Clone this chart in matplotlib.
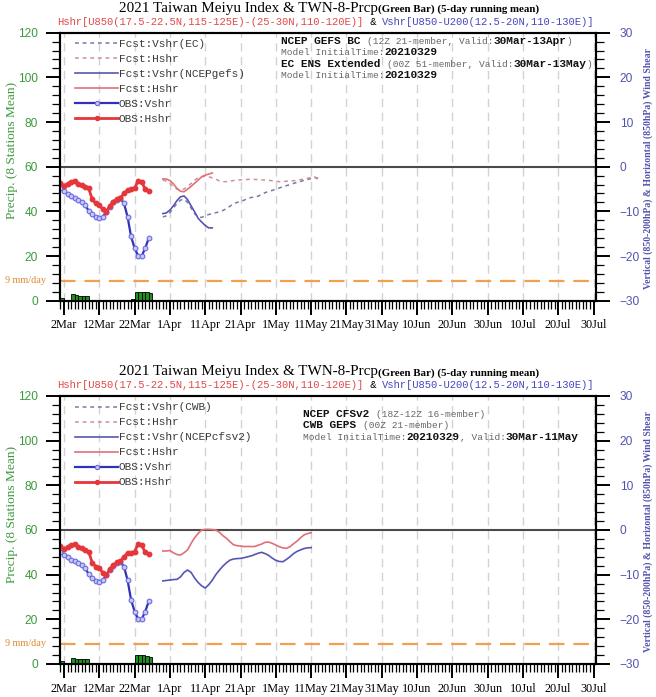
import matplotlib
matplotlib.use('Agg')
import matplotlib.pyplot as plt
import matplotlib.dates as mdates
import pandas as pd
from matplotlib.offsetbox import TextArea, HPacker, VPacker, AnchoredOffsetbox
from matplotlib.ticker import MultipleLocator, FixedLocator, FixedFormatter

# ---------------- data ----------------
obs_start = '2021-03-01'
prcp = [1.2, 0.5, 0.4, 2.9, 2.4, 2.3, 2.3, 2.2, 0, 0, 0, 0, 0, 0, 0, 0, 0, 0, 0,
        0.3, 0.6, 4.0, 4.0, 3.9, 3.7, 3.3]
obs_hshr = [-3.6, -4.25, -3.85, -3.35, -3.15, -3.85, -4.0, -4.45, -4.85, -7.3,
            -8.2, -8.55, -9.55, -10.05, -8.75, -7.85, -7.25, -7.0, -5.95, -5.2,
            -5.05, -4.85, -3.15, -3.4, -5.0, -5.35]
obs_vshr = [-4.85, -5.5, -6.1, -6.65, -7.05, -7.4, -7.85, -8.55, -9.9, -10.7,
            -11.35, -11.55, -11.25, -10.05, -9.0, -8.0, -7.35, -7.1, -8.2, -11.2,
            -15.6, -18.25, -19.9, -20.0, -18.25, -16.0]

fc_start = '2021-03-30'
gefs_hshr = [-2.75, -2.75, -3.1, -3.85, -4.85, -5.5, -5.6, -5.05, -4.4, -3.7,
             -3.0, -2.25, -1.9, -1.65, -1.4]
gefs_vshr = [-10.5, -10.35, -9.7, -8.75, -7.6, -6.75, -6.55, -7.35, -8.75, -10.1,
             -11.55, -12.4, -13.15, -13.7, -13.7]
ec_hshr = [-3.0, -3.25, -3.75, -4.5, -5.0, -5.25, -5.0, -4.5, -3.75, -3.0,
           -2.5, -2.25, -2.1, -2.25, -2.5, -2.75, -3.2, -3.35, -3.35, -3.25,
           -3.1, -3.0, -2.95, -2.9, -2.85, -2.8, -2.85, -2.9, -2.95, -3.0,
           -3.05, -3.15, -3.25, -3.35, -3.35, -3.25, -3.15, -3.15, -3.05, -2.9,
           -2.75, -2.6, -2.4, -2.25, -3.1]
ec_vshr = [-11.25, -11.0, -10.25, -9.25, -8.25, -7.5, -7.25, -8.0, -9.25, -10.5,
           -11.25, -11.35, -11.0, -10.7, -10.5, -10.3, -10.1, -9.8, -9.4, -8.85,
           -8.3, -8.0, -7.8, -7.5, -7.1, -6.9, -6.8, -6.6, -6.2, -5.8,
           -5.55, -5.3, -5.05, -4.75, -4.5, -4.25, -4.0, -3.75, -3.5, -3.3,
           -3.05, -2.85, -2.65, -2.4, -2.6]
cfs_hshr = [-4.7, -4.7, -4.6, -5.1, -5.5, -5.6, -5.1, -4.45, -3.0, -1.75,
            -0.75, 0.0, 0.15, 0.15, 0.1, 0.0, -0.5, -1.25, -1.85, -2.6,
            -3.3, -3.5, -3.6, -3.7, -3.7, -3.7, -3.7, -3.4, -3.15, -2.75,
            -2.7, -3.0, -3.35, -3.75, -4.0, -4.1, -3.75, -3.1, -2.5, -1.75,
            -1.1, -0.8, -0.6]
cfs_vshr = [-11.4, -11.3, -11.2, -11.1, -11.05, -10.5, -9.5, -8.95, -9.5, -10.75,
            -11.75, -12.5, -13.0, -12.25, -11.25, -10.0, -9.0, -8.1, -7.35, -6.75,
            -6.5, -6.4, -6.35, -6.2, -6.0, -5.8, -5.5, -5.2, -5.0, -5.3,
            -5.7, -6.3, -6.8, -7.05, -7.1, -6.6, -6.0, -5.3, -4.8, -4.45,
            -4.15, -4.0, -3.95]

tick_dates = ['2021-03-02', '2021-03-12', '2021-03-22', '2021-04-01', '2021-04-11',
              '2021-04-21', '2021-05-01', '2021-05-11', '2021-05-21', '2021-05-31',
              '2021-06-10', '2021-06-20', '2021-06-30', '2021-07-10', '2021-07-20',
              '2021-07-30']
tick_labels = ['2Mar', '12Mar', '22Mar', '1Apr', '11Apr', '21Apr', '1May', '11May',
               '21May', '31May', '10Jun', '20Jun', '30Jun', '10Jul', '20Jul', '30Jul']
threshold = 9

# ---------------- styles ----------------
W, H = 656, 697
SERIF = 'Liberation Serif'
MONO = 'Liberation Mono'
SANS = 'Liberation Sans'
GREEN = '#3c9a3c'
PURPLE = '#5252b0'
RED_OBS = '#e5363b'
BLUE_OBS = '#3030b8'
RED_FC = '#e07078'
BLUE_FC = '#5656b4'
RED_DASH = '#d09098'
BLUE_DASH = '#7878a8'
ORANGE = '#f0a050'


def d2n(s):
    return mdates.date2num(pd.Timestamp(s))


obs_dates = pd.date_range(obs_start, periods=len(obs_hshr))
fig = plt.figure(figsize=(W / 100, H / 100), dpi=100)


def fig_text_box(lines, x_px, y_px, loc):
    rows = []
    for parts in lines:
        areas = [TextArea(t, textprops=p) for t, p in parts]
        rows.append(HPacker(children=areas, align='baseline', pad=0, sep=0))
    box = rows[0] if len(rows) == 1 else VPacker(children=rows, align='left', pad=0, sep=1.0)
    ab = AnchoredOffsetbox(loc=loc, child=box, pad=0, borderpad=0, frameon=False,
                           bbox_to_anchor=(x_px / W, 1 - y_px / H),
                           bbox_transform=fig.transFigure)
    fig.add_artist(ab)


def draw_panel(top_px, fc_dashed, fc_solid, labels, annot, annot_xy):
    bottom_px = top_px + 268
    ax = fig.add_axes([60 / W, 1 - bottom_px / H, 536 / W, 268 / H])
    ax2 = ax.twinx()

    # precip bars
    ax.bar(obs_dates, prcp, width=1.0, align='edge', color='#1f8f1f',
           edgecolor='black', linewidth=0.6, zorder=3)
    ax.axhline(threshold, color=ORANGE, lw=1.6, dashes=(7, 4), zorder=2)
    ax.axhline(60, color='#4a4a4a', lw=1.5, zorder=2)
    ax.text(-0.027, threshold, '9 mm/day', transform=ax.get_yaxis_transform(),
            ha='right', va='center', color='#e08a30', fontsize=7.3, family=SERIF)

    # x-axis
    ax.set_xlim(d2n('2021-03-01') - 0.13, d2n('2021-07-30') + 0.7)
    ax.xaxis.set_major_locator(FixedLocator([d2n(d) for d in tick_dates]))
    ax.xaxis.set_major_formatter(FixedFormatter(tick_labels))
    ax.xaxis.set_minor_locator(mdates.DayLocator())
    ax.grid(axis='x', which='major', color='#d2d2d2', lw=1.0, dashes=(6, 4))
    ax.set_axisbelow(True)

    ax.set_ylim(0, 120)
    ax.yaxis.set_major_locator(MultipleLocator(20))
    ax.yaxis.set_minor_locator(MultipleLocator(4))
    ax2.set_ylim(-30, 30)
    ax2.yaxis.set_major_locator(MultipleLocator(10))
    ax2.yaxis.set_minor_locator(MultipleLocator(2))

    for a in (ax, ax2):
        for s in a.spines.values():
            s.set_linewidth(1.5)
    ax.tick_params(axis='both', which='major', length=10, width=1.4, direction='out')
    ax.tick_params(axis='both', which='minor', length=6, width=0.9, direction='out')
    ax2.tick_params(axis='y', which='major', length=10, width=1.4, direction='out',
                    labelcolor=PURPLE, labelsize=8.6, pad=7)
    ax2.tick_params(axis='y', which='minor', length=6, width=0.9, direction='out')
    ax.tick_params(axis='y', labelcolor=GREEN, labelsize=8.6, pad=6)
    ax.tick_params(axis='x', labelsize=8.8, pad=3.5)
    for lab in ax.get_xticklabels():
        lab.set_family(SERIF)
    for lab in ax.get_yticklabels() + ax2.get_yticklabels():
        lab.set_family(SANS)

    # forecast + obs lines on wind-shear axis
    d_h, d_v = fc_dashed
    s_h, s_v = fc_solid
    fdates = lambda v: pd.date_range(fc_start, periods=len(v))
    h1, = ax2.plot(fdates(d_v), d_v, color=BLUE_DASH, lw=1.1, dashes=(2.5, 2.5))
    h2, = ax2.plot(fdates(d_h), d_h, color=RED_DASH, lw=1.1, dashes=(2.5, 2.5))
    h3, = ax2.plot(fdates(s_v), s_v, color=BLUE_FC, lw=1.2)
    h4, = ax2.plot(fdates(s_h), s_h, color=RED_FC, lw=1.2)
    h5, = ax2.plot(obs_dates, obs_vshr, color=BLUE_OBS, lw=1.6, marker='o', ms=3.4,
                   mfc='#c8c8f6', mec='#6a6ae2', mew=0.8)
    h6, = ax2.plot(obs_dates, obs_hshr, color=RED_OBS, lw=2.0, marker='o', ms=3.2,
                   mfc=RED_OBS, mec=RED_OBS)

    leg = ax2.legend([h1, h2, h3, h4, h5, h6], labels, loc='upper left',
                     bbox_to_anchor=(0.028, 0.976), borderaxespad=0, borderpad=0,
                     frameon=False, handlelength=3.9, handletextpad=0.05,
                     labelspacing=0.45, numpoints=1, markerscale=0.9,
                     prop={'family': MONO, 'size': 8})
    for t in leg.get_texts():
        t.set_color('#3a3a3a')

    # axis labels
    fig.text(12 / W, 1 - (top_px + 118) / H, 'Precip. (8 Stations Mean)', rotation=90,
             ha='center', va='center', color=GREEN, fontsize=9.6, family=SERIF)
    fig.text(648 / W, 1 - (top_px + 136) / H,
             'Vertical (850-200hPa) & Horizontal (850hPa) Wind Shear', rotation=90,
             ha='center', va='center', color=PURPLE, fontsize=7.0, family=SERIF,
             weight='bold')

    # titles
    fig_text_box([[('2021 Taiwan Meiyu Index & TWN-8-Prcp', {'family': SERIF, 'size': 10.9}),
                   ('(Green Bar) (5-day running mean)',
                    {'family': SERIF, 'size': 7.8, 'weight': 'bold'})]],
                 329, top_px - 24, 'center')
    fig_text_box([[('Hshr[U850(17.5-22.5N,115-125E)-(25-30N,110-120E)]',
                    {'family': MONO, 'size': 7.6, 'color': '#e04848'}),
                   (' & ', {'family': MONO, 'size': 7.6, 'color': 'black'}),
                   ('Vshr[U850-U200(12.5-20N,110-130E)]',
                    {'family': MONO, 'size': 7.6, 'color': '#4646c0'})]],
                 326, top_px - 10.5, 'center')

    # model annotation
    fig_text_box(annot, annot_xy[0], annot_xy[1], 'upper left')
    return ax, ax2


B = {'family': MONO, 'size': 8, 'weight': 'bold', 'color': '#111111'}
G = {'family': MONO, 'size': 6.8, 'color': '#666666'}

annot_top = [
    [('NCEP GEFS BC ', B), ('(12Z 21-member, Valid:', G), ('30Mar-13Apr', B), (')', G)],
    [('Model InitialTime:', G), ('20210329', B)],
    [('EC ENS Extended ', B), ('(00Z 51-member, Valid:', G), ('30Mar-13May', B), (')', G)],
    [('Model InitialTime:', G), ('20210329', B)],
]
annot_bot = [
    [('NCEP CFSv2 ', B), ('(18Z-12Z 16-member)', G)],
    [('CWB GEPS ', B), ('(00Z 21-member)', G)],
    [('Model InitialTime:', G), ('20210329', B), (', Valid:', G), ('30Mar-11May', B)],
]

labels_top = ['Fcst:Vshr(EC)', 'Fcst:Hshr', 'Fcst:Vshr(NCEPgefs)', 'Fcst:Hshr',
              'OBS:Vshr', 'OBS:Hshr']
labels_bot = ['Fcst:Vshr(CWB)', 'Fcst:Hshr', 'Fcst:Vshr(NCEPcfsv2)', 'Fcst:Hshr',
              'OBS:Vshr', 'OBS:Hshr']

draw_panel(32.7, (ec_hshr, ec_vshr), (gefs_hshr, gefs_vshr), labels_top,
           annot_top, (281, 36))
draw_panel(396, ([], []), (cfs_hshr, cfs_vshr), labels_bot,
           annot_bot, (303, 409))

fig.savefig('out.png', dpi=100)
